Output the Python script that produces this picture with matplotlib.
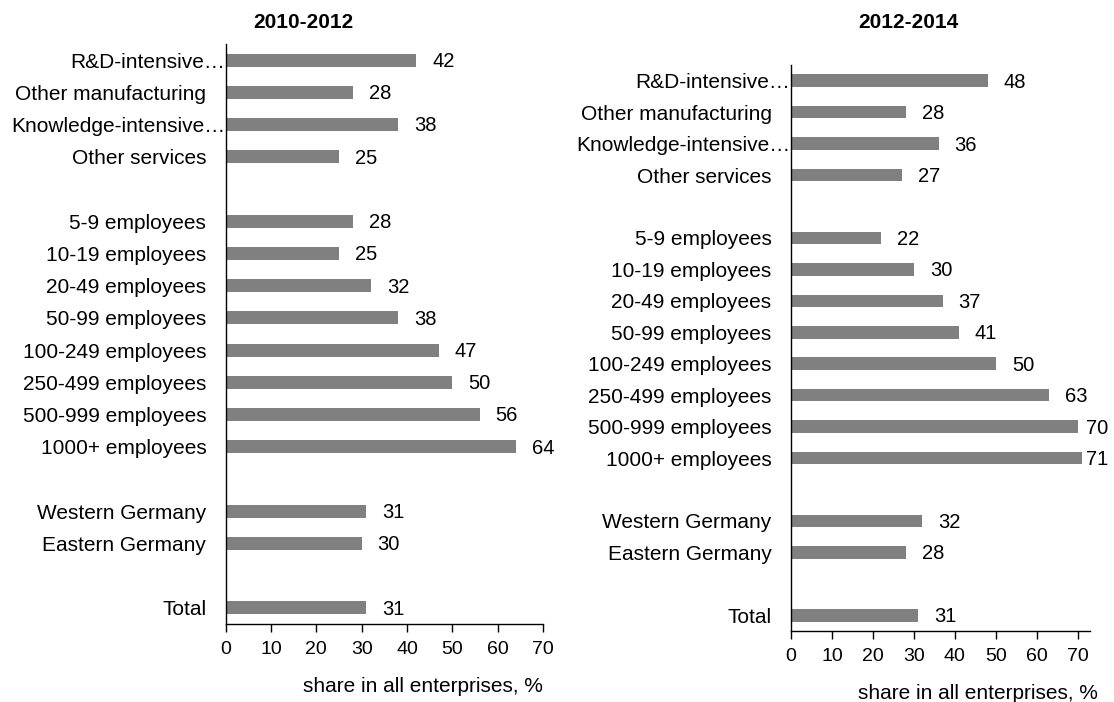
import matplotlib.pyplot as plt

plt.rcParams['font.family'] = ['Liberation Sans', 'DejaVu Sans']

# categories, top to bottom ("" = empty slot between groups)
categories = ["R&D-intensive…", "Other manufacturing", "Knowledge-intensive…",
              "Other services", "",
              "5-9 employees", "10-19 employees", "20-49 employees",
              "50-99 employees", "100-249 employees", "250-499 employees",
              "500-999 employees", "1000+ employees", "",
              "Western Germany", "Eastern Germany", "",
              "Total"]

share_2010_2012 = [42, 28, 38, 25, None,
                   28, 25, 32, 38, 47, 50, 56, 64, None,
                   31, 30, None,
                   31]
share_2012_2014 = [48, 28, 36, 27, None,
                   22, 30, 37, 41, 50, 63, 70, 71, None,
                   32, 28, None,
                   31]

titles = ["2010-2012", "2012-2014"]
xlabel = "share in all enterprises, %"

fig = plt.figure(figsize=(11.14, 7.02), dpi=100)

# -----------------------------
# Panels
# -----------------------------
panels = [
    dict(rect=[0.2026, 0.1111, 0.2848, 0.8262], values=share_2010_2012, xmax=70,
         title=titles[0], title_xy=(0.272, 0.968)),
    dict(rect=[0.7101, 0.1011, 0.2684, 0.8063], values=share_2012_2014, xmax=73,
         title=titles[1], title_xy=(0.815, 0.968)),
]

value_labels = []
for p in panels:
    ax = fig.add_axes(p['rect'])
    ypos = list(range(len(categories)))
    bars_y = [y for y, v in zip(ypos, p['values']) if v is not None]
    bars_v = [v for v in p['values'] if v is not None]
    ax.barh(bars_y, bars_v, height=0.4, color='#808080')

    for y, v in zip(bars_y, bars_v):
        t = ax.annotate(str(v), (v, y), xytext=(11.5, -1), textcoords='offset points',
                        ha='left', va='center', fontsize=14.5)
        value_labels.append(t)

    ax.set_ylim(len(categories) - 0.5, -0.5)
    ax.set_xlim(0, p['xmax'])
    ax.set_xticks(range(0, 71, 10))
    ax.set_yticks(ypos)
    ax.set_yticklabels(categories, fontsize=15)
    ax.tick_params(axis='y', length=0, pad=14)
    ax.tick_params(axis='x', direction='out', length=6, width=1, pad=6,
                   labelsize=14)
    for tick, lab in zip(ax.yaxis.get_major_ticks(), categories):
        if lab.endswith("…"):
            tick.set_pad(0.5)

    for s in ['top', 'right']:
        ax.spines[s].set_visible(False)
    for s in ['left', 'bottom']:
        ax.spines[s].set_linewidth(1)
        ax.spines[s].set_color('black')

    ax.set_xlabel(xlabel, fontsize=15, ha='right', x=(70 if p['xmax'] == 70 else 75) / p['xmax'],
                  labelpad=14)

    fig.text(p['title_xy'][0], p['title_xy'][1], p['title'], ha='center', va='center',
             fontsize=15, fontweight='bold')

# keep value labels inside the chart area (like Excel does)
fig.canvas.draw()
renderer = fig.canvas.get_renderer()
right_edge = 1108
for t in value_labels:
    bb = t.get_window_extent(renderer)
    if bb.x1 > right_edge:
        dx, dy = t.xyann
        t.xyann = (dx - (bb.x1 - right_edge) * 72 / fig.dpi, dy)

fig.savefig("out.png", dpi=100)
